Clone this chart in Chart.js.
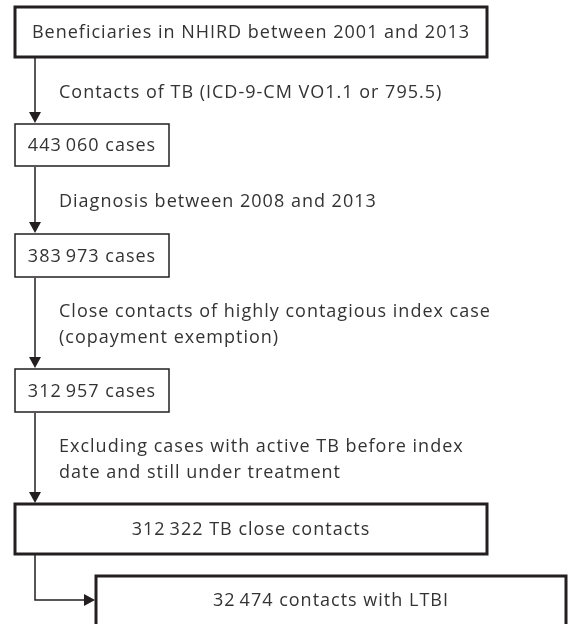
<!DOCTYPE html>
<html>
<head>
<meta charset="utf-8">
<script src="https://cdn.jsdelivr.net/npm/chart.js@4"></script>
<style>
  html, body { margin: 0; padding: 0; background: #fff; }
  #wrap { width: 570px; height: 624px; position: relative; }
</style>
</head>
<body>
<div id="wrap"><canvas id="flow"></canvas></div>
<script>
// Flow data: source population, counts after each step, and the criteria between them
const sourceLabel = 'Beneficiaries in NHIRD between 2001 and 2013';
const stepCounts = [443060, 383973, 312957, 312322, 32474];
const stepSuffix = ['cases', 'cases', 'cases', 'TB close contacts', 'contacts with LTBI'];
const criteria = [
  ['Contacts of TB (ICD-9-CM VO1.1 or 795.5)'],
  ['Diagnosis between 2008 and 2013'],
  ['Close contacts of highly contagious index case', '(copayment exemption)'],
  ['Excluding cases with active TB before index', 'date and still under treatment']
];

// Layout in diagram units (same as pixels of the 570x624 page)
const layout = {
  boxes: [
    { x0: 15, x1: 487, y0: 7, y1: 57, thick: true },
    { x0: 15, x1: 169, y0: 124, y1: 166, thick: false },
    { x0: 15, x1: 169, y0: 234, y1: 277, thick: false },
    { x0: 15, x1: 169, y0: 369, y1: 412, thick: false },
    { x0: 15, x1: 487, y0: 504, y1: 554, thick: true },
    { x0: 96, x1: 566, y0: 576, y1: 640, thick: true, textY: 600 }
  ],
  spineX: 35,
  textX: 59,
  lineGap: 26
};

const INK = '#231f20';
const TEXT = '#333333';
const FONT = '18px "Open Sans"';
const SPACING = '1px';

function fmt(n) {
  // thin space as thousands separator
  return String(n).replace(/\B(?=(\d{3})+(?!\d))/g, '\u2009');
}

const boxTexts = [sourceLabel].concat(stepCounts.map((n, i) => fmt(n) + ' ' + stepSuffix[i]));

const flowPlugin = {
  id: 'flow',
  afterDraw(chart) {
    const ctx = chart.ctx;
    const sx = v => chart.scales.x.getPixelForValue(v);
    const sy = v => chart.scales.y.getPixelForValue(v);
    ctx.save();
    ctx.letterSpacing = SPACING;

    function arrowHead(tx, ty, dir) {
      const w = 6, h = 11;
      ctx.beginPath();
      if (dir === 'down') {
        ctx.moveTo(tx, ty);
        ctx.lineTo(tx - w, ty - h);
        ctx.lineTo(tx + w, ty - h);
      } else {
        ctx.moveTo(tx, ty);
        ctx.lineTo(tx - h, ty - w);
        ctx.lineTo(tx - h, ty + w);
      }
      ctx.closePath();
      ctx.fillStyle = INK;
      ctx.fill();
    }

    // boxes and their labels
    layout.boxes.forEach((b, i) => {
      const x0 = sx(b.x0), x1 = sx(b.x1), y0 = sy(b.y0), y1 = sy(b.y1);
      ctx.lineWidth = b.thick ? 3 : 1.5;
      ctx.strokeStyle = INK;
      ctx.strokeRect(x0, y0, x1 - x0, y1 - y0);
      ctx.fillStyle = TEXT;
      ctx.font = FONT;
      ctx.textAlign = 'center';
      ctx.textBaseline = 'middle';
      const ty = b.textY !== undefined ? sy(b.textY) : (y0 + y1) / 2;
      ctx.fillText(boxTexts[i], (x0 + x1) / 2, ty + 1);
    });

    // vertical arrows with criteria text
    ctx.lineWidth = 1.5;
    for (let i = 0; i < criteria.length; i++) {
      const top = layout.boxes[i].y1, bottom = layout.boxes[i + 1].y0;
      const x = sx(layout.spineX);
      ctx.beginPath();
      ctx.moveTo(x, sy(top) + 1);
      ctx.lineTo(x, sy(bottom) - 8);
      ctx.strokeStyle = INK;
      ctx.stroke();
      arrowHead(x, sy(bottom) - 1, 'down');

      const lines = criteria[i];
      const mid = (top + bottom) / 2 + 1;
      ctx.fillStyle = TEXT;
      ctx.font = FONT;
      ctx.textAlign = 'left';
      ctx.textBaseline = 'middle';
      lines.forEach((t, k) => {
        const ly = mid + (k - (lines.length - 1) / 2) * layout.lineGap;
        ctx.fillText(t, sx(layout.textX), sy(ly) + 1);
      });
    }

    // elbow connector to the final box
    const last = layout.boxes[5], prev = layout.boxes[4];
    const ex = sx(layout.spineX), ey = sy(last.textY);
    ctx.beginPath();
    ctx.moveTo(ex, sy(prev.y1) + 1);
    ctx.lineTo(ex, ey);
    ctx.lineTo(sx(last.x0) - 8, ey);
    ctx.strokeStyle = INK;
    ctx.lineWidth = 1.5;
    ctx.stroke();
    arrowHead(sx(last.x0) - 1, ey, 'right');

    ctx.restore();
  }
};

new Chart(document.getElementById('flow'), {
  type: 'scatter',
  data: { datasets: [{ data: [] }] },
  options: {
    responsive: true,
    maintainAspectRatio: false,
    animation: false,
    layout: { padding: 0 },
    plugins: { legend: { display: false }, tooltip: { enabled: false } },
    scales: {
      x: { type: 'linear', min: 0, max: 570, display: false },
      y: { type: 'linear', min: 0, max: 624, reverse: true, display: false }
    }
  },
  plugins: [flowPlugin]
});
</script>
</body>
</html>
